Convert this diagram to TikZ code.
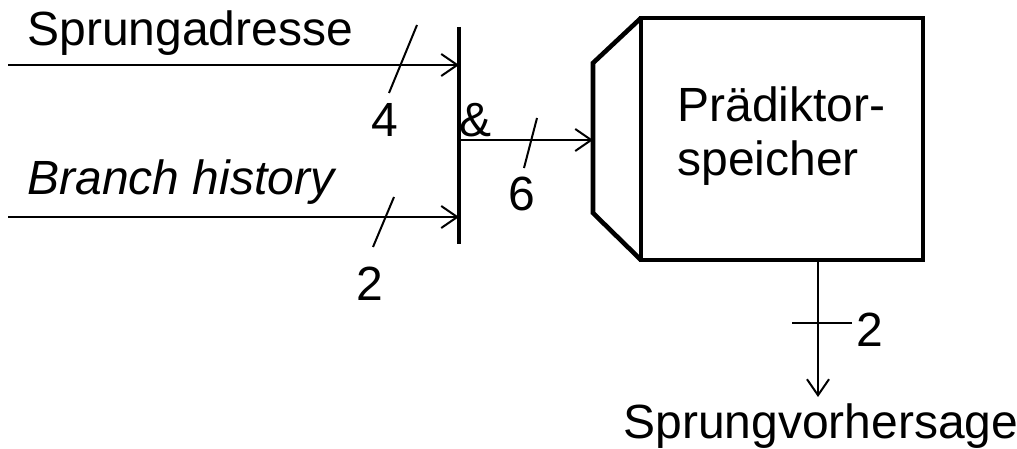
\documentclass[tikz,border=0pt]{standalone}
\usepackage{fontspec}
\setmainfont{Liberation Sans}
\usetikzlibrary{arrows.meta}
\newcommand{\labelFont}[0]{\fontsize{24}{29}\selectfont}

\begin{document}
\begin{tikzpicture}[x=0.5pt, y=-0.5pt]
  \tikzset{every node/.style={inner sep=0pt, font=\labelFont},
    bus/.style={line width=1pt, -{Straight Barb[length=8pt, width=11pt, line width=1pt]}},
    tick/.style={line width=1pt},
    thick bar/.style={line width=2.3pt, line join=miter}}
  \useasboundingbox (0,0) rectangle (1017,449);
  % concatenation bar
  \coordinate (bar-top) at (459,27);
  \coordinate (bar-bot) at (459,244);
  \draw[thick bar] (bar-top) -- (bar-bot);
  % inputs
  \coordinate (addr-in) at (8,65);
  \coordinate (hist-in) at (8,217);
  \node[anchor=base west] (addr) at (27,46) {Sprungadresse};
  \node[anchor=base west] (hist) at (27,194) {\itshape Branch history};
  \draw[bus] (addr-in) -- (addr-in -| bar-top);
  \draw[bus] (hist-in) -- (hist-in -| bar-top);
  \draw[tick] (389,93) -- (417,25);
  \draw[tick] (373,247) -- (394,197);
  \node (w-4) at (385,120) {4};
  \node (w-2) at (370,284) {2};
  \node (and) at (476,120) {\&};
  % predictor memory
  \coordinate (dec-tl) at (641,18);
  \coordinate (dec-bl) at (641,260);
  \coordinate (dec-l1) at (593,63);
  \coordinate (dec-l2) at (593,213);
  \node[draw, thick bar, minimum width=141pt, minimum height=121pt] (mem) at (782,139) {};
  \draw[thick bar] (dec-tl) -- (dec-l1) -- (dec-l2) -- (dec-bl);
  \node[anchor=base west] (mem-1) at (677,122) {Prädiktor-};
  \node[anchor=base west] (mem-2) at (677,176) {speicher};
  % index into memory
  \coordinate (idx-in) at (461,140);
  \draw[bus] (idx-in) -- (idx-in -| dec-l1);
  \draw[tick] (524,168) -- (537,118);
  \node (w-6) at (522,194) {6};
  % prediction output
  \coordinate (out) at (818,262);
  \coordinate (out-end) at (818,397);
  \draw[bus] (out) -- (out-end);
  \draw[tick] (792,323) -- (852,323);
  \node (w-2b) at (870,330) {2};
  \node[anchor=base west] (pred) at (623,438) {Sprungvorhersage};
\end{tikzpicture}
\end{document}
